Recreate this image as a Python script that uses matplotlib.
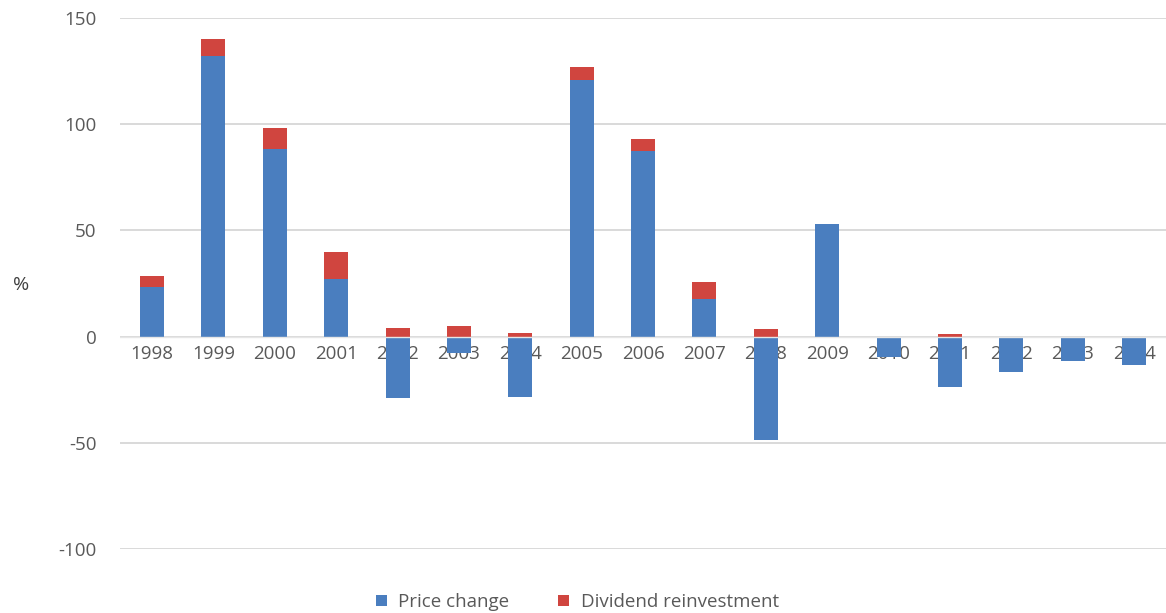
import numpy as np
import matplotlib.pyplot as plt

plt.rcParams['font.family'] = ['Open Sans', 'DejaVu Sans']
plt.rcParams['axes.unicode_minus'] = False

years = [str(y) for y in range(1998, 2015)]
price_change = [23.5, 132, 88.5, 27, -29, -7.5, -28.5, 121, 87.5, 17.5, -48.5, 53, -9.5, -23.5, -16.5, -11.5, -13.5]
dividend = [5, 8, 9.5, 13, 4, 5, 1.5, 6, 5.5, 8, 3.5, 0, 0, 1, 0, 0, 0]

blue = '#4a7ebf'
red = '#d0453f'
grey_text = '#595959'

fig = plt.figure(figsize=(11.66, 6.13), dpi=100)
ax = fig.add_axes([0.103, 0.1044, 0.897, 0.8662])

x = np.arange(len(years))
pc = np.array(price_change)
dv = np.array(dividend)
# dividend stacks on the positive side, starting at zero when price change is negative
base = np.where(pc > 0, pc, 0)

ax.bar(x, pc, width=0.39, color=blue, label='Price change', zorder=2)
ax.bar(x, dv, width=0.39, bottom=base, color=red, label='Dividend reinvestment', zorder=2)

ax.set_ylim(-100, 150)
ax.set_xlim(-0.52, 16.52)
ax.set_yticks([-100, -50, 0, 50, 100, 150])
ax.yaxis.grid(True, color='#d9d9d9', linewidth=1.4, zorder=0)
ax.axhline(0, color='#e6e6e6', linewidth=1.0, zorder=3)
ax.set_axisbelow(True)

for s in ['top', 'right', 'left']:
    ax.spines[s].set_visible(False)
ax.spines['bottom'].set_position(('data', 0))
ax.spines['bottom'].set_visible(False)

ax.set_xticks(x)
ax.set_xticklabels(years)
ax.tick_params(axis='x', length=0, pad=6, labelsize=13.5, labelcolor=grey_text)
ax.tick_params(axis='y', length=0, pad=17, labelsize=13.5, labelcolor=grey_text)

fig.text(0.011, 0.535, '%', fontsize=14, color='#404040', va='center')

ax.legend(loc='center', bbox_to_anchor=(0.437, -0.1), ncol=2, frameon=False,
          fontsize=13.5, labelcolor=grey_text, handlelength=0.6, handleheight=0.6,
          handletextpad=0.6, columnspacing=2.6)

fig.savefig('out.png', dpi=100)
